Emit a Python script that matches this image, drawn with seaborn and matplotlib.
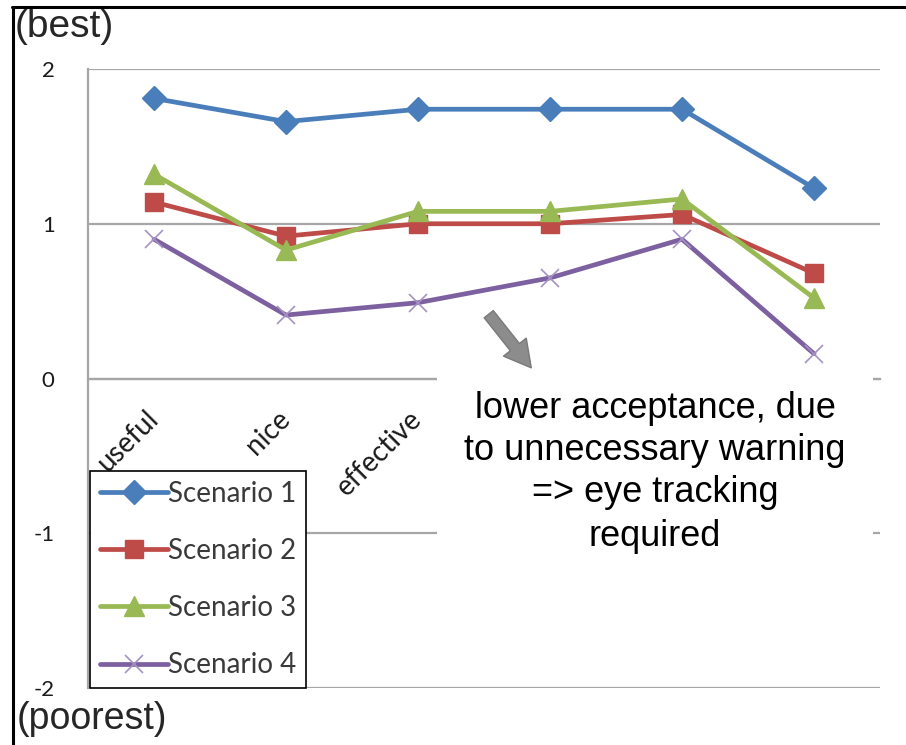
import matplotlib
matplotlib.use("Agg")
import matplotlib.pyplot as plt
import seaborn as sns
import numpy as np
import pandas as pd
from matplotlib.patches import Rectangle
from matplotlib.lines import Line2D
from matplotlib.ticker import FixedLocator

# ---------------- data ----------------
categories = ["useful", "nice", "effective", "", "", ""]   # last three hidden behind the note box
scenario_names = ["Scenario 1", "Scenario 2", "Scenario 3", "Scenario 4"]
scenario_1 = [1.81, 1.66, 1.74, 1.74, 1.74, 1.23]
scenario_2 = [1.14, 0.92, 1.00, 1.00, 1.06, 0.68]
scenario_3 = [1.32, 0.83, 1.08, 1.08, 1.16, 0.52]
scenario_4 = [0.90, 0.41, 0.49, 0.65, 0.90, 0.16]
y_ticks = [-2, -1, 0, 1, 2]
note_lines = ["lower acceptance, due", "to unnecessary warning", "=> eye tracking", "required"]

series = [scenario_1, scenario_2, scenario_3, scenario_4]
colors = ["#4A7EBB", "#BE4B48", "#98B954", "#7D60A0"]
markers = ["D", "s", "^", "x"]
msizes = [12, 13, 14, 13]

W, H = 906, 745
sns.set_style("white")
plt.rcParams["font.family"] = ["Liberation Sans", "DejaVu Sans"]
plt.rcParams["axes.unicode_minus"] = False

fig = plt.figure(figsize=(W / 100, H / 100), dpi=100)
ax = fig.add_axes([88 / W, 1 - 688 / H, 792 / W, 619 / H])

x_idx = np.arange(len(categories))
for name, vals, c, m, ms in zip(scenario_names, series, colors, markers, msizes):
    kw = dict(markeredgecolor=c, markerfacecolor=c, markeredgewidth=1)
    if m == "x":
        kw = dict(markeredgecolor="#A592C4", markeredgewidth=1.2)
    sns.lineplot(x=x_idx, y=vals, ax=ax, color=c, marker=m, markersize=ms,
                 linewidth=3.4, label=name, zorder=3, **kw)

ax.set_xlim(-0.5, len(categories) - 0.5)
ax.set_ylim(-2, 2)

grid_c = "#A6A6A6"
ax.set_yticks(y_ticks)
ax.set_yticklabels([str(v) for v in y_ticks], fontsize=16,
                   family=["Lato", "DejaVu Sans"], color="#1a1a1a")
ax.yaxis.grid(True, color=grid_c, linewidth=1.6)
ax.xaxis.grid(False)
for s in ["top", "right"]:
    ax.spines[s].set_visible(False)
ax.spines["left"].set_color(grid_c)
ax.spines["left"].set_linewidth(1.6)
ax.spines["bottom"].set_position(("data", 0))
ax.spines["bottom"].set_color(grid_c)
ax.spines["bottom"].set_linewidth(1.6)
ax.set_axisbelow(True)

ax.tick_params(axis="y", length=8, width=1.6, color=grid_c, pad=16)

ax.set_xticks(x_idx)
ax.set_xticklabels(categories, rotation=45, ha="right", rotation_mode="anchor",
                   va="center", fontsize=20, family=["Lato", "DejaVu Sans"],
                   color="#1a1a1a")
ax.tick_params(axis="x", which="major", length=0, pad=26)
ax.xaxis.set_minor_locator(FixedLocator(np.arange(-0.5, len(categories), 1.0)))
ax.tick_params(axis="x", which="minor", length=7, width=1.6, color=grid_c)
ax.set_xlabel("")
ax.set_ylabel("")

# legend
leg = ax.legend(loc="lower left", bbox_to_anchor=(90 / W, 1 - 688 / H),
                bbox_transform=fig.transFigure, borderaxespad=0,
                frameon=True, fancybox=False, edgecolor="black", framealpha=1,
                prop={"family": ["Lato", "DejaVu Sans"], "size": 20},
                handlelength=2.45, handletextpad=0.0, labelspacing=1.12,
                borderpad=0.35)
leg.get_frame().set_linewidth(1.2)
for t in leg.get_texts():
    t.set_color("#3a3a3a")

# white note box covering part of the chart
fig.patches.append(Rectangle((437 / W, 1 - 570 / H), (873 - 437) / W, (570 - 372) / H,
                             transform=fig.transFigure, facecolor="white",
                             edgecolor="none", zorder=5))
line_y = [408, 450, 492, 537]
for txt, yy in zip(note_lines, line_y):
    fig.text(655 / W, 1 - yy / H, txt, ha="center", va="center", fontsize=26,
             color="black", zorder=6)

# arrow
ax.annotate("", xy=(533, H - 370), xytext=(487, H - 312),
            xycoords="figure pixels", textcoords="figure pixels",
            arrowprops=dict(arrowstyle="simple,head_length=0.5,head_width=0.55,tail_width=0.22",
                            mutation_scale=38, facecolor="#8C8C8C", edgecolor="#7A7A7A",
                            linewidth=1), zorder=7)

# side labels
fig.text(15 / W, 1 - 27 / H, "(best)", ha="left", va="center", fontsize=28)
fig.text(17 / W, 1 - 719 / H, "(poorest)", ha="left", va="center", fontsize=27)

# figure border (top + left)
fig.add_artist(Line2D([12 / W, 1], [1 - 6.5 / H, 1 - 6.5 / H], transform=fig.transFigure,
                      color="black", linewidth=2.2))
fig.add_artist(Line2D([12.5 / W, 12.5 / W], [0, 1 - 6.5 / H], transform=fig.transFigure,
                      color="black", linewidth=2.2))

fig.savefig("out.png", dpi=100)
